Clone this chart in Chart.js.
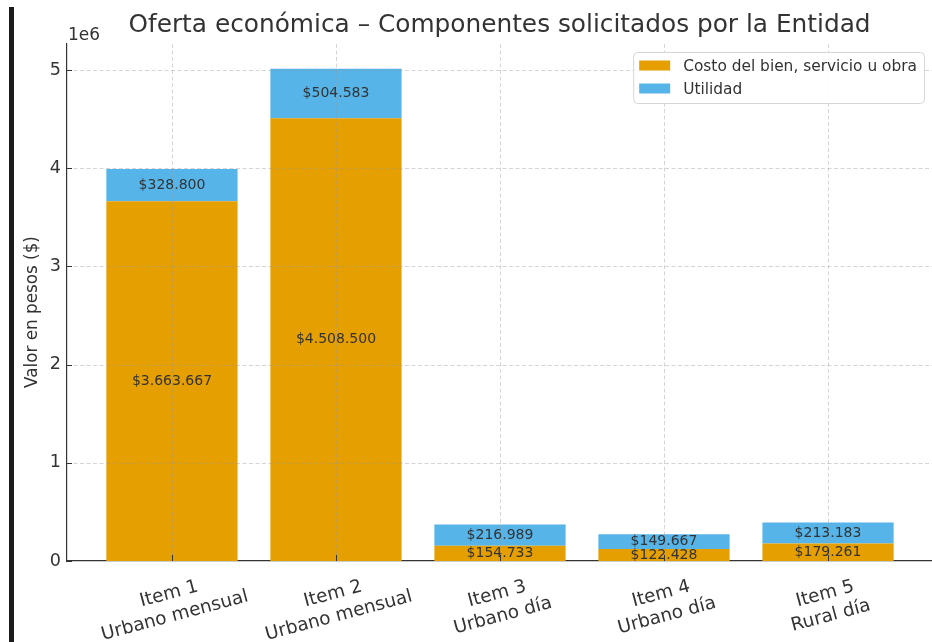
<!DOCTYPE html>
<html><head><meta charset="utf-8">
<script src="https://cdn.jsdelivr.net/npm/chart.js@4/dist/chart.umd.min.js"></script>
<style>
html,body{margin:0;padding:0;background:#fff;overflow:hidden}
#wrap{position:relative;width:932px;height:642px}
#edge{position:absolute;left:9px;top:7px;width:5px;height:635px;background:#1c1c1c}
canvas{position:absolute;left:0;top:0}
</style></head><body>
<div id="wrap"><canvas id="c" width="932" height="642"></canvas><div id="edge"></div></div>
<script>
const categories = [['Item 1','Urbano mensual'],['Item 2','Urbano mensual'],['Item 3','Urbano día'],['Item 4','Urbano día'],['Item 5','Rural día']];
const costo = [3663667, 4508500, 154733, 122428, 179261];
const utilidad = [328800, 504583, 216989, 149667, 213183];
const seriesNames = ['Costo del bien, servicio u obra', 'Utilidad'];
const yTickValues = [0, 1e6, 2e6, 3e6, 4e6, 5e6];
const yTickLabels = ['0', '1', '2', '3', '4', '5'];
const chartTitle = 'Oferta económica – Componentes solicitados por la Entidad';
const yAxisTitle = 'Valor en pesos ($)';
const offsetLabel = '1e6';

const F = '"DejaVu Sans", sans-serif';
const TXT = '#333333';
const COLORS = ['#E69F00', '#56B4E9'];
const fmt = n => '$' + String(n).replace(/\B(?=(\d{3})+(?!\d))/g, '.');
const seriesValues = [costo, utilidad];

function line(ctx, x1, y1, x2, y2){ ctx.beginPath(); ctx.moveTo(x1,y1); ctx.lineTo(x2,y2); ctx.stroke(); }

const overlay = {
  id: 'overlay',
  afterDatasetsDraw(chart){
    const {ctx, chartArea: a, scales: {x, y}} = chart;
    ctx.save();
    // grid on top of bars
    ctx.strokeStyle = 'rgba(150,150,150,0.45)';
    ctx.lineWidth = 0.9;
    ctx.setLineDash([4, 2.5]);
    yTickValues.forEach(v => { if (v === 0) return; const py = Math.round(y.getPixelForValue(v)) + 0.5; line(ctx, a.left, py, a.right, py); });
    categories.forEach((c, i) => { const px = Math.round(x.getPixelForValue(i)) + 0.5; line(ctx, px, a.top, px, a.bottom); });
    // inward ticks
    ctx.setLineDash([]);
    ctx.strokeStyle = TXT; ctx.lineWidth = 1;
    yTickValues.forEach(v => { const py = Math.round(y.getPixelForValue(v)) + 0.5; line(ctx, a.left, py, a.left + 5, py); });
    categories.forEach((c, i) => { const px = Math.round(x.getPixelForValue(i)) + 0.5; line(ctx, px, a.bottom, px, a.bottom - 6); });
    // data labels
    ctx.font = '14px ' + F;
    ctx.fillStyle = TXT;
    ctx.textAlign = 'center'; ctx.textBaseline = 'middle';
    categories.forEach((c, i) => {
      let base = 0;
      seriesValues.forEach(vals => {
        const v = vals[i];
        ctx.fillText(fmt(v), x.getPixelForValue(i), y.getPixelForValue(base + v / 2));
        base += v;
      });
    });
    // legend
    ctx.font = '15.4px ' + F;
    const tw = Math.max(...seriesNames.map(s => ctx.measureText(s).width));
    const sw = 31, gap = 13, padL = 6, padR = 7, rowH = 23;
    const w = padL + sw + gap + tw + padR, h = 51;
    const lx = a.right - 8 - w, ly = a.top + 8;
    ctx.beginPath();
    ctx.roundRect(lx + 0.5, ly + 0.5, w, h, 4);
    ctx.fillStyle = 'rgba(255,255,255,0.9)'; ctx.fill();
    ctx.strokeStyle = '#d6d6d6'; ctx.lineWidth = 1; ctx.stroke();
    seriesNames.forEach((s, k) => {
      const cy = ly + 13.5 + k * rowH;
      ctx.fillStyle = COLORS[k];
      ctx.fillRect(lx + padL, cy - 5, sw, 10);
      ctx.fillStyle = TXT; ctx.textAlign = 'left'; ctx.textBaseline = 'middle';
      ctx.fillText(s, lx + padL + sw + gap, cy + 1);
    });
    ctx.restore();
  },
  afterDraw(chart){
    const {ctx, chartArea: a, scales: {x}} = chart;
    ctx.save();
    ctx.fillStyle = TXT;
    // title
    ctx.font = '24.8px ' + F; ctx.textAlign = 'center'; ctx.textBaseline = 'middle';
    ctx.fillText(chartTitle, (a.left + a.right) / 2, 26);
    // offset label
    ctx.font = '17px ' + F; ctx.textAlign = 'left'; ctx.textBaseline = 'alphabetic';
    ctx.fillText(offsetLabel, a.left + 1, 40);
    // y title
    ctx.save();
    ctx.translate(33, 312); ctx.rotate(-Math.PI / 2);
    ctx.font = '16.8px ' + F; ctx.textAlign = 'center'; ctx.textBaseline = 'middle';
    ctx.fillText(yAxisTitle, 0, 0);
    ctx.restore();
    // x labels
    ctx.font = '18.4px ' + F; ctx.textAlign = 'center'; ctx.textBaseline = 'middle';
    categories.forEach((c, i) => {
      ctx.save();
      ctx.translate(x.getPixelForValue(i), a.bottom + 44);
      ctx.rotate(-15 * Math.PI / 180);
      const lh = 22.5;
      c.forEach((t, j) => ctx.fillText(t, 0, (j - (c.length - 1) / 2) * lh));
      ctx.restore();
    });
    ctx.restore();
  }
};

new Chart(document.getElementById('c'), {
  type: 'bar',
  data: {
    datasets: seriesNames.map((name, k) => ({
      label: name,
      data: seriesValues[k].map((v, i) => ({x: i, y: v})),
      backgroundColor: COLORS[k],
      borderWidth: 0,
      barPercentage: 0.8,
      categoryPercentage: 1.0
    }))
  },
  options: {
    responsive: false,
    devicePixelRatio: 1,
    animation: false,
    layout: {padding: {top: 44, left: 0, right: 0, bottom: 0}},
    plugins: {legend: {display: false}, title: {display: false}, tooltip: {enabled: false}},
    scales: {
      x: {
        type: 'linear', stacked: true, min: -0.64, max: 4.634, offset: false,
        grid: {display: false, drawTicks: false},
        border: {display: true, color: TXT, width: 1.2},
        afterBuildTicks: s => { s.ticks = categories.map((c, i) => ({value: i})); },
        ticks: {display: false},
        afterFit: s => { s.height = 81; }
      },
      y: {
        type: 'linear', stacked: true, min: 0, max: 5264000,
        grid: {display: false, drawTicks: false},
        border: {display: true, color: TXT, width: 1.2},
        afterBuildTicks: s => { s.ticks = yTickValues.map(v => ({value: v})); },
        ticks: {
          color: TXT, font: {family: 'DejaVu Sans', size: 17.6}, padding: 6,
          callback: (v) => yTickLabels[yTickValues.indexOf(v)]
        },
        afterFit: s => { s.width = 67; }
      }
    }
  },
  plugins: [overlay]
});
</script>
</body></html>
